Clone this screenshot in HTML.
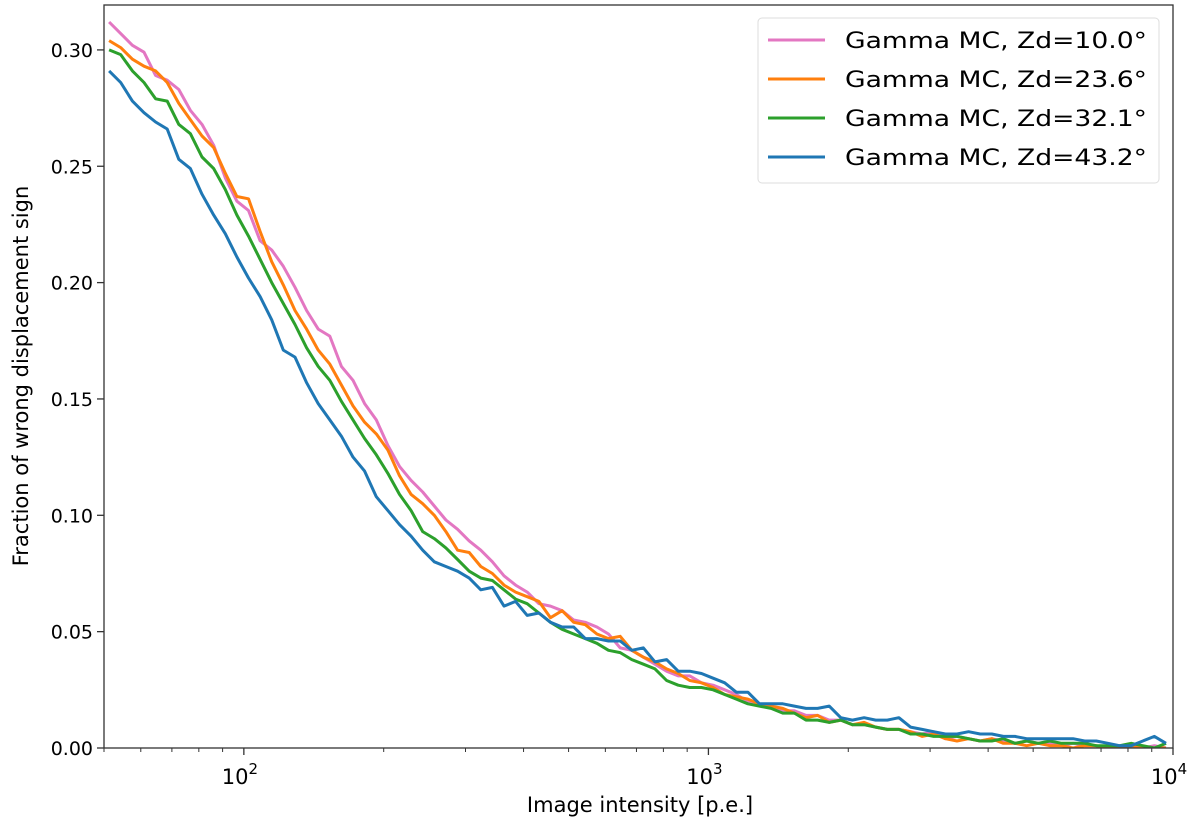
<!DOCTYPE html>
<html><head><meta charset="utf-8"><style>
html,body{margin:0;padding:0;background:#fff;}
svg{display:block;font-family:"DejaVu Sans","Liberation Sans",sans-serif;}
</style></head><body>
<svg id="chart" width="1200" height="828" viewBox="0 0 1200 828"></svg>
<script>
const logMin = 1.71, logStep = 0.025;
const seriesNames = ["Gamma MC, Zd=10.0°","Gamma MC, Zd=23.6°","Gamma MC, Zd=32.1°","Gamma MC, Zd=43.2°"];
const zd10 = [0.312,0.307,0.302,0.299,0.289,0.287,0.283,0.274,0.268,0.259,0.245,0.235,0.231,0.218,0.214,0.207,0.198,0.188,0.180,0.177,0.164,0.158,0.148,0.141,0.130,0.121,0.115,0.110,0.104,0.098,0.094,0.089,0.085,0.080,0.074,0.070,0.067,0.062,0.061,0.059,0.055,0.054,0.052,0.049,0.043,0.042,0.039,0.036,0.033,0.031,0.031,0.028,0.027,0.025,0.023,0.020,0.019,0.018,0.016,0.016,0.014,0.014,0.012,0.012,0.010,0.010,0.009,0.008,0.008,0.007,0.006,0.007,0.004,0.005,0.004,0.003,0.004,0.003,0.002,0.003,0.002,0.002,0.001,0.002,0.001,0.001,0.000,0.001,0.000,0.000,0.001,0.000];
const zd23 = [0.304,0.301,0.296,0.293,0.291,0.286,0.277,0.270,0.263,0.258,0.247,0.237,0.236,0.222,0.209,0.199,0.188,0.180,0.171,0.165,0.156,0.147,0.140,0.135,0.128,0.117,0.109,0.105,0.100,0.093,0.085,0.084,0.078,0.075,0.070,0.067,0.065,0.063,0.056,0.059,0.054,0.053,0.049,0.047,0.048,0.042,0.039,0.037,0.034,0.032,0.029,0.028,0.026,0.023,0.022,0.021,0.019,0.018,0.017,0.015,0.013,0.014,0.011,0.012,0.010,0.011,0.009,0.008,0.008,0.007,0.005,0.006,0.004,0.003,0.004,0.003,0.004,0.002,0.002,0.001,0.002,0.001,0.001,0.000,0.001,0.001,0.000,0.000,0.001,0.000,0.000,0.000];
const zd32 = [0.300,0.298,0.291,0.286,0.279,0.278,0.268,0.264,0.254,0.249,0.240,0.229,0.220,0.210,0.200,0.191,0.182,0.172,0.164,0.158,0.149,0.141,0.133,0.126,0.118,0.109,0.102,0.093,0.090,0.086,0.081,0.076,0.073,0.072,0.068,0.064,0.062,0.058,0.054,0.051,0.049,0.047,0.045,0.042,0.041,0.038,0.036,0.034,0.029,0.027,0.026,0.026,0.025,0.023,0.021,0.019,0.018,0.017,0.015,0.015,0.012,0.012,0.011,0.012,0.010,0.010,0.009,0.008,0.008,0.006,0.006,0.005,0.005,0.005,0.004,0.003,0.003,0.004,0.002,0.003,0.002,0.003,0.002,0.002,0.002,0.001,0.001,0.001,0.002,0.001,0.000,0.002];
const zd43 = [0.291,0.286,0.278,0.273,0.269,0.266,0.253,0.249,0.238,0.229,0.221,0.211,0.202,0.194,0.184,0.171,0.168,0.157,0.148,0.141,0.134,0.125,0.119,0.108,0.102,0.096,0.091,0.085,0.080,0.078,0.076,0.073,0.068,0.069,0.061,0.063,0.057,0.058,0.054,0.052,0.052,0.047,0.047,0.046,0.046,0.042,0.043,0.037,0.038,0.033,0.033,0.032,0.030,0.028,0.024,0.024,0.019,0.019,0.019,0.018,0.017,0.017,0.018,0.013,0.012,0.013,0.012,0.012,0.013,0.009,0.008,0.007,0.006,0.006,0.007,0.006,0.006,0.005,0.005,0.004,0.004,0.004,0.004,0.004,0.003,0.003,0.002,0.001,0.001,0.003,0.005,0.002];
const seriesColors = ["#e377c2","#ff7f0e","#2ca02c","#1f77b4"];
const yTicks = [0.00,0.05,0.10,0.15,0.20,0.25,0.30];
const xMajor = [100,1000,10000];
const xMajorExp = ["2","3","4"];

const svg = document.getElementById('chart');
const NS = 'http://www.w3.org/2000/svg';
const L=104, R=1173, T=5, B=748;
const xMin=50, xMax=10000, yMin=0, yMax=0.3193;
function xs(v){return L+(Math.log10(v)-Math.log10(xMin))/(Math.log10(xMax)-Math.log10(xMin))*(R-L);}
function ys(v){return B-(v-yMin)/(yMax-yMin)*(B-T);}
function mk(tag,attrs,parent){const e=document.createElementNS(NS,tag);for(const k in attrs)e.setAttribute(k,attrs[k]);(parent||svg).appendChild(e);return e;}

const defs=mk('defs',{});
const cp=mk('clipPath',{id:'plotclip'},defs);
mk('rect',{x:L,y:T,width:R-L,height:B-T},cp);

const allSeries=[zd10,zd23,zd32,zd43];
const sNames=['series-zd10','series-zd23','series-zd32','series-zd43'];
const gLines=mk('g',{'clip-path':'url(#plotclip)'});


allSeries.forEach((arr,si)=>{
  const pts=arr.map((v,i)=>{const x=Math.pow(10,logMin+logStep*i);return xs(x).toFixed(1)+','+ys(v).toFixed(1);}).join(' ');
  const p=mk('polyline',{points:pts,fill:'none',stroke:seriesColors[si],'stroke-width':3,'stroke-linejoin':'round'},gLines);
  
  
});

const frame=mk('rect',{x:L,y:T,width:R-L,height:B-T,fill:'none',stroke:'#333',"stroke-width":1.3});



yTicks.forEach(v=>{
  const y=ys(v);
  const t=mk('line',{x1:L-7,x2:L,y1:y,y2:y,stroke:'#333','stroke-width':1.3});
  
  
  const tx=mk('text',{x:L-11,y:y+7,'text-anchor':'end','font-size':19,fill:'#000'});
  tx.textContent=v.toFixed(2);
  
  
});
xMajor.forEach((v,i)=>{
  const x=xs(v);
  const t=mk('line',{x1:x,x2:x,y1:B,y2:B+7,stroke:'#333','stroke-width':1.3});
  
  
  const tx=mk('text',{x:x-4,y:B+36,'text-anchor':'middle','font-size':21,fill:'#000'});
  tx.textContent='10';
  const sup=mk('tspan',{dy:-10,'font-size':15},tx);
  sup.textContent=xMajorExp[i];
  
  
});
for(let d=1;d<=3;d++){for(let m=2;m<=9;m++){const v=m*Math.pow(10,d);if(v<xMin||v>xMax)continue;
  const x=xs(v);
  const t=mk('line',{x1:x,x2:x,y1:B,y2:B+4,stroke:'#333','stroke-width':1});
  
  
}}

const xt=mk('text',{x:640,y:812,'text-anchor':'middle','font-size':21,fill:'#000'});
xt.textContent='Image intensity [p.e.]';


const yt=mk('text',{x:0,y:0,'text-anchor':'middle','font-size':21,fill:'#000',transform:'translate(28,376) rotate(-90)'});
yt.textContent='Fraction of wrong displacement sign';



const lg=mk('g',{});


mk('rect',{x:758,y:18,width:401,height:165,rx:4,fill:'#fff','fill-opacity':0.85,stroke:'#ddd','stroke-width':1},lg);
seriesNames.forEach((n,i)=>{
  const y=40+i*39;
  const ln=mk('line',{x1:768,x2:825,y1:y,y2:y,stroke:seriesColors[i],'stroke-width':3},lg);
  
  
  const tx=mk('text',{x:845,y:y+8,'font-size':22,fill:'#000',textLength:302,lengthAdjust:'spacingAndGlyphs'},lg);
  tx.textContent=n;
  
  
});
</script>
</body></html>
